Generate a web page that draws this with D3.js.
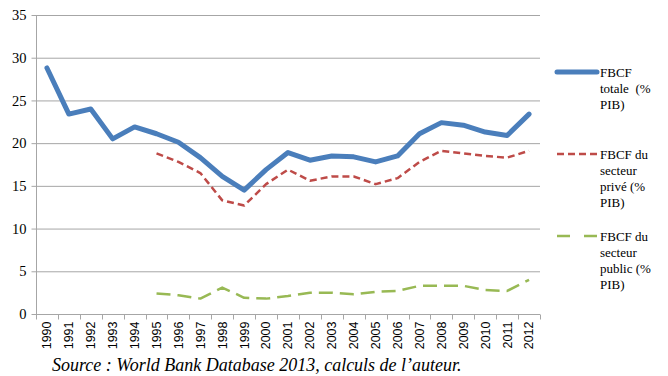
<!DOCTYPE html>
<html><head><meta charset="utf-8">
<script src="https://cdn.jsdelivr.net/npm/d3@7"></script>
<style>body{margin:0;background:#fff}</style>
</head><body>
<svg id="c" width="668" height="376"></svg>
<script>
const years = ["1990","1991","1992","1993","1994","1995","1996","1997","1998","1999","2000","2001","2002","2003","2004","2005","2006","2007","2008","2009","2010","2011","2012"];
const totale = [28.8,23.4,24.0,20.5,21.9,21.1,20.1,18.3,16.1,14.5,16.9,18.9,18.0,18.5,18.4,17.8,18.5,21.1,22.4,22.1,21.3,20.9,23.4];
const prive  = [null,null,null,null,null,18.8,17.8,16.5,13.3,12.7,15.2,16.9,15.6,16.1,16.1,15.2,15.9,17.8,19.1,18.8,18.5,18.3,19.1];
const public_ = [null,null,null,null,null,2.4,2.2,1.8,3.1,1.9,1.8,2.1,2.5,2.5,2.3,2.6,2.7,3.3,3.3,3.3,2.8,2.7,4.0];
const yTicks = [0,5,10,15,20,25,30,35];
const legendLabels = [["FBCF","totale  (%","PIB)"],["FBCF du","secteur","privé (%","PIB)"],["FBCF du","secteur","public (%","PIB)"]];
const sourceText = "Source : World Bank Database 2013, calculs de l’auteur.";

const SERIF = "'Liberation Serif', serif";
const SANS = "'Liberation Sans', sans-serif";
const svg = d3.select("#c");
const L = 36, R = 540, T = 15, B = 314;
const x = d3.scaleBand().domain(years).range([L, R]);
const y = d3.scaleLinear().domain([0,35]).range([B, T]);

svg.append("g").selectAll("line").data(yTicks.filter(d=>d>0)).join("line")
  .attr("x1", L).attr("x2", R).attr("y1", d=>y(d)+0.5).attr("y2", d=>y(d)+0.5)
  .attr("stroke", "#a6a6a6").attr("stroke-width", 1);

const ya = svg.append("g").attr("transform", `translate(${L+0.5},0)`)
  .call(d3.axisLeft(y).tickValues(yTicks).tickSize(5).tickPadding(5));
ya.attr("font-family", SERIF).attr("font-size", 14.5);
ya.select(".domain").attr("stroke", "#a6a6a6").attr("d", `M0,${T}V${B}`);
ya.selectAll(".tick line").attr("stroke", "#a6a6a6");
ya.selectAll("text").style("font-family", SERIF).style("font-size","14.5px").attr("fill", "#000");

const xa = svg.append("g").attr("transform", `translate(0,${B+0.5})`)
  .call(d3.axisBottom(x).tickSize(0));
xa.attr("font-family", SANS).attr("font-size", 12.5);
xa.select(".domain").attr("stroke", "#a6a6a6").attr("d", `M${L},0H${R}`);
xa.selectAll(".tick line").remove();
const bounds = years.map((d,i)=>x(d)).concat([R]);
xa.selectAll("line.b").data(bounds).join("line").attr("class","b")
  .attr("x1", d=>Math.round(d)+0.5).attr("x2", d=>Math.round(d)+0.5).attr("y1",0).attr("y2",5)
  .attr("stroke", "#a6a6a6");
xa.selectAll(".tick text")
  .style("font-family", SANS).style("font-size","12.5px").attr("fill", "#000")
  .attr("transform", "rotate(-90)").attr("text-anchor", "end")
  .attr("x", -7).attr("y", 0).attr("dy", "0.35em");

const cx = d => x(d) + x.bandwidth()/2;
const mk = arr => d3.line().defined((d,i)=>arr[i]!=null).x((d,i)=>cx(years[i])).y((d,i)=>y(arr[i]));
const series = [
  {data: totale, color: "#4a7ebb", w: 5, dash: null},
  {data: prive, color: "#be4b48", w: 2.5, dash: "7,4"},
  {data: public_, color: "#98b954", w: 2.5, dash: "14,7"}
];
series.forEach(s => {
  svg.append("path").datum(years).attr("d", mk(s.data))
    .attr("fill","none").attr("stroke", s.color).attr("stroke-width", s.w)
    .attr("stroke-linejoin","round").attr("stroke-linecap", s.dash? "butt":"round")
    .attr("stroke-dasharray", s.dash);
});

const legY = [72, 154, 236];
series.forEach((s,i) => {
  const g = svg.append("g");
  g.append("line").attr("x1", 557).attr("x2", 597).attr("y1", legY[i]).attr("y2", legY[i])
    .attr("stroke", s.color).attr("stroke-width", s.w).attr("stroke-linecap", s.dash? "butt":"round")
    .attr("stroke-dasharray", i==2 ? "13,14" : s.dash);
  legendLabels[i].forEach((t,j) => {
    g.append("text").attr("x", 600).attr("y", legY[i] + 5 + j*16)
      .style("font-family", SERIF).style("font-size","13px").style("white-space","pre")
      .attr("fill","#000").text(t);
  });
});

svg.append("text").attr("x", 52).attr("y", 371)
  .style("font-family", SERIF).style("font-style","italic").style("font-size","18px")
  .attr("fill","#000").text(sourceText);
</script>
</body></html>
